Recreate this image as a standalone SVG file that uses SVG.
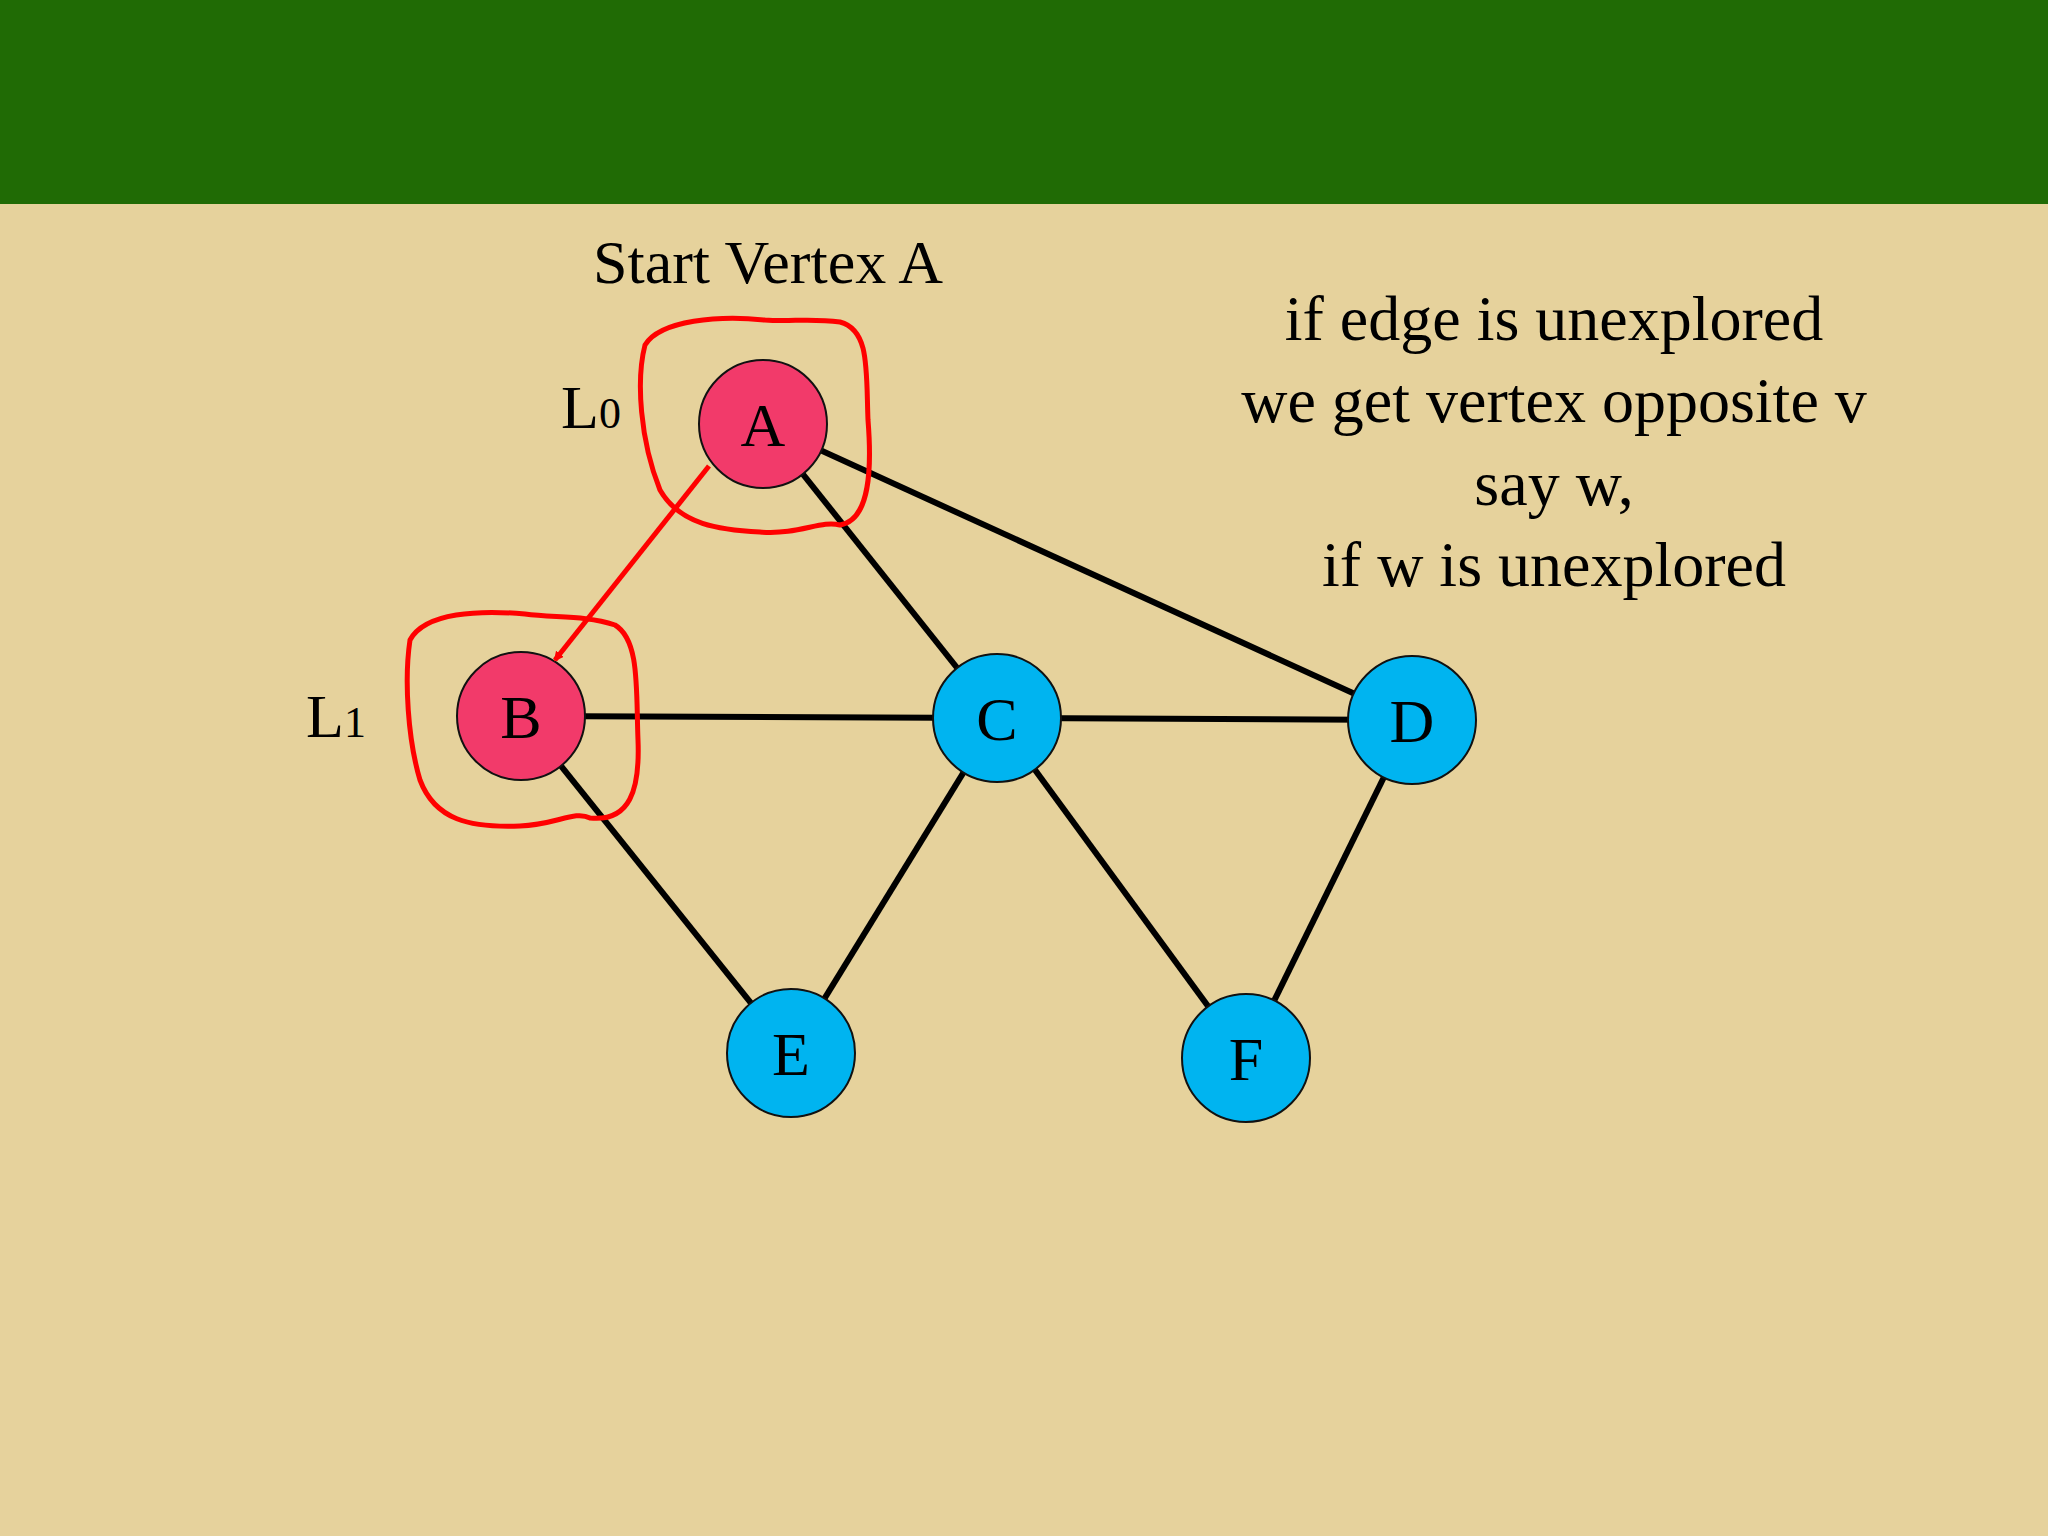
<svg xmlns="http://www.w3.org/2000/svg" width="2048" height="1536" viewBox="0 0 2048 1536">
<defs>
<style>
.e{stroke:#000;stroke-width:6;fill:none}
.n{stroke:#111;stroke-width:2}
.t{font-family:"Liberation Serif",serif;fill:#000}
.nl{font-family:"Liberation Serif",serif;font-size:62px;text-anchor:middle;fill:#000}
.loop{stroke:#F00;stroke-width:5;fill:none;stroke-linecap:round}
</style>
<marker id="ah" markerWidth="10" markerHeight="10" refX="8" refY="5" orient="auto" markerUnits="userSpaceOnUse"><path d="M0,0 L10,5 L0,10 Z" fill="#F00"/></marker>
</defs>
<rect width="2048" height="1536" fill="#E6D29C"/>
<rect width="2048" height="204" fill="#206B05"/>
<g id="connectors">
<line class="e" x1="763" y1="424" x2="997" y2="718"/>
<line class="e" x1="763" y1="424" x2="1412" y2="720"/>
<line class="e" x1="521" y1="716" x2="997" y2="718"/>
<line class="e" x1="997" y1="718" x2="1412" y2="720"/>
<line class="e" x1="521" y1="716" x2="791" y2="1053"/>
<line class="e" x1="997" y1="718" x2="791" y2="1053"/>
<line class="e" x1="997" y1="718" x2="1246" y2="1058"/>
<line class="e" x1="1412" y1="720" x2="1246" y2="1058"/>
</g>
<g id="nodeA"><circle class="n" cx="763" cy="424" r="64" fill="#F23A6A"/><text class="nl" x="763" y="446">A</text></g>
<g id="nodeB"><circle class="n" cx="521" cy="716" r="64" fill="#F23A6A"/><text class="nl" x="521" y="738">B</text></g>
<g id="nodeC"><circle class="n" cx="997" cy="718" r="64" fill="#00B4F0"/><text class="nl" x="997" y="740">C</text></g>
<g id="nodeD"><circle class="n" cx="1412" cy="720" r="64" fill="#00B4F0"/><text class="nl" x="1412" y="742">D</text></g>
<g id="nodeE"><circle class="n" cx="791" cy="1053" r="64" fill="#00B4F0"/><text class="nl" x="791" y="1075">E</text></g>
<g id="nodeF"><circle class="n" cx="1246" cy="1058" r="64" fill="#00B4F0"/><text class="nl" x="1246" y="1080">F</text></g>
<g id="annotations">
<line x1="709" y1="466" x2="555" y2="660" stroke="#F00" stroke-width="5" marker-end="url(#ah)"/>
<path class="loop" d="M765,320 C720,315 660,320 645,345 C636,380 640,440 660,490 C680,525 720,530 760,532 C800,535 820,520 840,525 C870,520 872,470 868,420 C866,370 870,330 840,322 C810,318 790,322 765,320 Z"/>
<path class="loop" d="M525,614 C480,610 425,612 410,640 C404,680 408,740 420,780 C435,820 470,828 520,826 C555,825 575,810 590,818 C630,822 640,790 638,740 C636,690 640,640 615,625 C585,615 555,618 525,614 Z"/>
</g>
<g id="labels">
<text class="t" x="768" y="283" font-size="62" text-anchor="middle">Start Vertex A</text>
<text class="t" x="561" y="428" font-size="62">L<tspan font-size="44">0</tspan></text>
<text class="t" x="306" y="737" font-size="62">L<tspan font-size="44">1</tspan></text>
<text class="t" x="1554" y="340" font-size="64" text-anchor="middle">if edge is unexplored</text>
<text class="t" x="1554" y="422" font-size="64" text-anchor="middle">we get vertex opposite v</text>
<text class="t" x="1554" y="505" font-size="64" text-anchor="middle">say w,</text>
<text class="t" x="1554" y="586" font-size="64" text-anchor="middle">if w is unexplored</text>
</g>
</svg>
